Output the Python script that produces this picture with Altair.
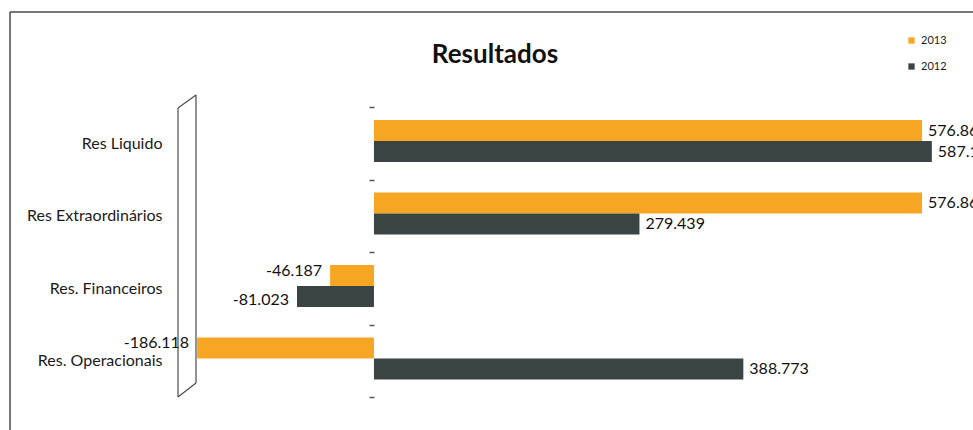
import altair as alt
import pandas as pd

# Results by category, values in thousands (Portuguese format: "." as thousands separator)
categories = ["Res Liquido", "Res Extraordinários", "Res. Financeiros", "Res. Operacionais"]
years = ["2013", "2012"]
values_2013 = [576.864, 576.864, -46.187, -186.118]
values_2012 = [587.180, 279.439, -81.023, 388.773]
colors = ["#F6A623", "#3A4543"]

rows = []
for cat, v13, v12 in zip(categories, values_2013, values_2012):
    rows.append({"categoria": cat, "ano": "2013", "valor": v13})
    rows.append({"categoria": cat, "ano": "2012", "valor": v12})
df = pd.DataFrame(rows)
# value labels with a plain hyphen for negatives
df["rotulo"] = df["valor"].map(lambda v: f"{v:.3f}")

FONT = "Lato"
LINE = "#4a4a4a"

x_enc = alt.X(
    "valor:Q",
    scale=alt.Scale(domain=[-198.9, 630.5], nice=False, zero=False),
    axis=None,
)
y_enc = alt.Y(
    "categoria:N",
    sort=categories,
    title=None,
    scale=alt.Scale(paddingInner=0, paddingOuter=0),
    axis=alt.Axis(
        offset=-189,
        domain=False,
        grid=False,
        tickBand="extent",
        tickSize=5,
        tickWidth=1.5,
        tickColor="#555555",
        labelPadding=207,
        labelFont=FONT,
        labelFontSize=16,
        labelColor="#1a1a1a",
    ),
)
yoff_enc = alt.YOffset(
    "ano:N", sort=years, scale=alt.Scale(paddingInner=0, paddingOuter=0.726, align=0.43)
)

base = alt.Chart(df)

bars = base.mark_bar().encode(
    x=x_enc,
    x2=alt.datum(0),
    y=y_enc,
    yOffset=yoff_enc,
    color=alt.Color(
        "ano:N",
        sort=years,
        scale=alt.Scale(domain=years, range=colors),
        legend=alt.Legend(
            title=None,
            orient="none",
            legendX=721,
            legendY=-72,
            symbolType="square",
            symbolSize=40,
            symbolStrokeWidth=0,
            labelFont=FONT,
            labelFontSize=11,
            labelColor="#1a1a1a",
            rowPadding=14,
        ),
    ),
)


def value_labels(filter_expr, align, dx, dy):
    return base.transform_filter(filter_expr).mark_text(
        align=align, baseline="middle", dx=dx, dy=dy,
        font=FONT, fontSize=16, color="#111111",
    ).encode(x=x_enc, y=y_enc, yOffset=yoff_enc, text="rotulo:N")


pos_labels = value_labels("datum.valor >= 0", "left", 6, 0)
neg_labels_2013 = value_labels("datum.valor < 0 && datum.ano == '2013'", "right", -8, -5)
neg_labels_2012 = value_labels("datum.valor < 0 && datum.ano == '2012'", "right", -8, 3)

one = pd.DataFrame({"k": [0]})

title = alt.Chart(one).mark_text(
    text="Resultados", font=FONT, fontSize=26, fontWeight="bold",
    align="center", baseline="middle", color="#111111",
).encode(x=alt.value(310), y=alt.value(-52))


def segment(x1, y1, x2, y2, width=1.5):
    return alt.Chart(one).mark_rule(color=LINE, strokeWidth=width).encode(
        x=alt.value(x1), y=alt.value(y1), x2=alt.value(x2), y2=alt.value(y2)
    )


# outer chart border (left and top edges)
frame = [segment(-175, -95, -175, 323, 1.5), segment(-175, -95, 790, -95, 1.5)]

# side wall of the category axis
wall = [
    segment(-7, 1, -7, 290, 1.2),
    segment(11, -12, 11, 276, 1.2),
    segment(-7, 1, 11, -12, 1.2),
    segment(-7, 290, 11, 276, 1.2),
]

chart = alt.layer(
    bars, pos_labels, neg_labels_2013, neg_labels_2012, title, *frame, *wall
).properties(
    width=788,
    height=290,
    autosize=alt.AutoSizeParams(type="none"),
    padding={"left": 185, "top": 107, "right": 0, "bottom": 33},
    background="white",
).configure_view(stroke=None)

chart.save("out.html", embed_options={"renderer": "svg", "actions": False})
